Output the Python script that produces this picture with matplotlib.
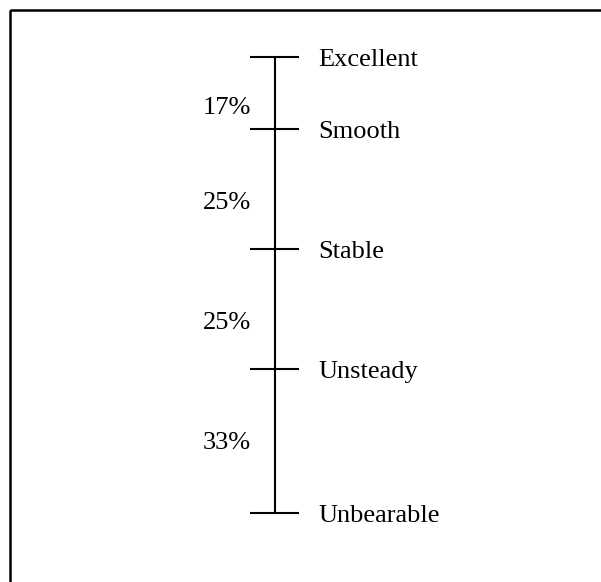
import matplotlib
matplotlib.use("Agg")
import matplotlib.pyplot as plt
from matplotlib.patches import Rectangle

# Data
levels = ["Excellent", "Smooth", "Stable", "Unsteady", "Unbearable"]
level_pos = [57, 129, 249, 369, 513]          # scale position of each level
percent_labels = ["17%", "25%", "25%", "33%"]
percent_pos = [108, 203, 323, 443]

W, H = 601, 582
fig = plt.figure(figsize=(W / 100, H / 100), dpi=100)
ax = fig.add_axes([0, 0, 1, 1])
ax.set_xlim(0, W)
ax.set_ylim(H, 0)
ax.axis("off")

font = dict(family=["Liberation Serif", "DejaVu Serif"], fontsize=19, color="black")

# outer frame (only left/top visible in the reference)
ax.add_patch(Rectangle((10, 10), W + 20, H + 20, fill=False, lw=1.8, ec="black"))

axis_x = 275
ax.plot([axis_x, axis_x], [level_pos[0], level_pos[-1]], color="black", lw=1.5,
        solid_capstyle="butt")
for name, y in zip(levels, level_pos):
    ax.plot([250, 299], [y, y], color="black", lw=1.5, solid_capstyle="butt")
    ax.text(318, y + 3, name, ha="left", va="center", **font)

for lab, y in zip(percent_labels, percent_pos):
    ax.text(251, y, lab, ha="right", va="center", **font)

fig.savefig("out.png", dpi=100)
